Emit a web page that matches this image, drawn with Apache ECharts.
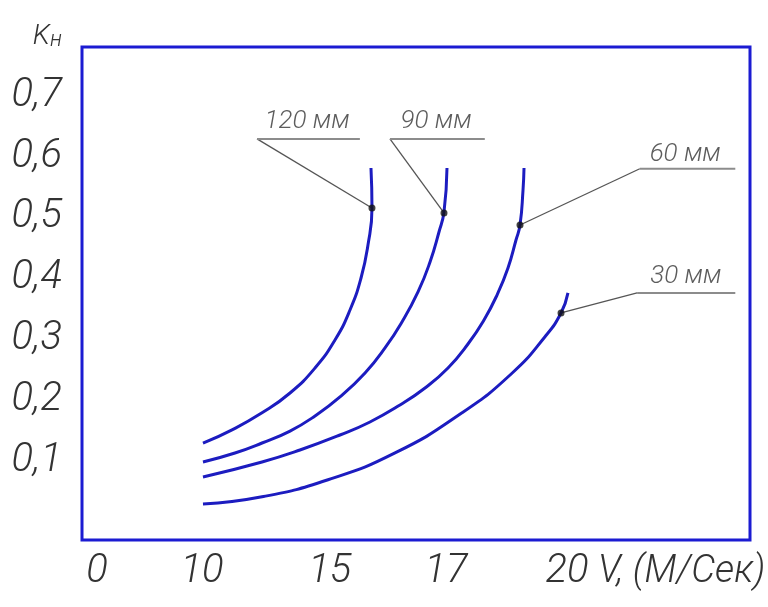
<!DOCTYPE html>
<html>
<head>
<meta charset="utf-8">
<script src="https://cdn.jsdelivr.net/npm/echarts@6/dist/echarts.min.js"></script>
<style>html,body{margin:0;padding:0;background:#fff}#c{width:768px;height:607px}</style>
</head>
<body>
<div id="c"></div>
<script>
// x axis: drawing position along the V axis (percent of frame width); labels placed at tick positions
var xTickPos = [2.25, 17.96, 37.1, 54.5, 72.6];
var xTickLabels = ['0', '10', '15', '17', '20'];
var xUnit = 'V, (М/Сек)';
var yTicks = [0.1, 0.2, 0.3, 0.4, 0.5, 0.6, 0.7];
var yName = 'Kн';

// curves [x position, Kн]
var curve120 = [[18.11,0.129],[22.46,0.151],[26.95,0.179],[31.14,0.2115],[34.88,0.2526],[37.87,0.2986],[40.12,0.3479],[41.77,0.4005],[42.81,0.4547],[43.41,0.5155],[43.26,0.5812]];
var curve90  = [[18.11,0.0982],[22.90,0.113],[26.95,0.1294],[31.14,0.149],[34.88,0.1737],[38.62,0.205],[42.37,0.2444],[45.36,0.2855],[47.90,0.3282],[50.30,0.3775],[52.10,0.4268],[53.44,0.476],[54.19,0.5089],[54.64,0.5812]];
var curve60  = [[18.11,0.0735],[26.95,0.0982],[32.63,0.1179],[38.62,0.1425],[43.11,0.1639],[47.60,0.1918],[51.35,0.2197],[54.79,0.2526],[57.78,0.292],[60.18,0.3315],[62.13,0.3725],[63.77,0.4169],[64.97,0.4629],[65.57,0.4875],[66.02,0.545],[66.17,0.5812]];
var curve30  = [[18.11,0.029],[26.95,0.041],[36.83,0.069],[46.86,0.113],[56.89,0.179],[64.37,0.244],[69.31,0.304],[71.71,0.343],[72.75,0.376]];

// callouts: point on curve, leader elbow, shelf end, label position
var calloutNames = ['120 мм', '90 мм', '60 мм', '30 мм'];
var calloutDots   = [[43.41,0.5155],[54.19,0.5073],[65.57,0.4875],[71.71,0.343]];
var calloutElbows = [[26.2,0.629],[46.1,0.629],[83.5,0.580],[83.1,0.376]];
var calloutEnds   = [[41.6,0.629],[60.3,0.629],[97.8,0.580],[97.8,0.376]];
var calloutText   = [[33.7,0.657],[53.0,0.657],[90.3,0.604],[90.4,0.403]];

var FONT = "Roboto, 'Liberation Sans Narrow', 'DejaVu Sans Condensed', sans-serif";
var TXT = '#333';
var BLUE = '#1c1cc0';
var AX_FS = 40;

var chart = echarts.init(document.getElementById('c'), null, {renderer: 'canvas'});

var series = [];
[curve120, curve90, curve60, curve30].forEach(function (c) {
  series.push({type: 'line', data: c, smooth: 0.5, symbol: 'none',
    lineStyle: {color: BLUE, width: 3}, z: 3, silent: true});
});
calloutDots.forEach(function (d, i) {
  series.push({type: 'line', data: [d, calloutElbows[i]], symbol: 'none',
    lineStyle: {color: '#555', width: 1.3}, z: 2, silent: true});
  series.push({type: 'line', data: [calloutElbows[i], calloutEnds[i]], symbol: 'none',
    lineStyle: {color: '#8c8c8c', width: 2}, z: 2, silent: true});
});
series.push({type: 'scatter', data: calloutDots, symbolSize: 7,
  itemStyle: {color: '#111'}, z: 4, silent: true});
series.push({type: 'scatter', symbolSize: 0, silent: true,
  data: calloutText.map(function (p, i) { return {value: p, name: calloutNames[i]}; }),
  label: {show: true, position: 'inside', formatter: '{b}', color: TXT,
    fontFamily: FONT, fontStyle: 'italic', fontWeight: 300, fontSize: 26}});

chart.setOption({
  animation: false,
  backgroundColor: '#fff',
  grid: {left: 82, top: 47, width: 668, height: 493, show: true,
    borderColor: '#1b1bd2', borderWidth: 3, backgroundColor: 'transparent',
    outerBoundsMode: 'none', containLabel: false},
  xAxis: {
    type: 'value', min: 0, max: 100,
    axisLine: {show: false}, axisTick: {show: false}, splitLine: {show: false},
    axisLabel: {customValues: xTickPos, margin: 12, color: TXT, fontFamily: FONT,
      fontStyle: 'italic', fontWeight: 300, fontSize: AX_FS,
      formatter: function (v) {
        var i = xTickPos.indexOf(v);
        return i >= 0 ? xTickLabels[i] : '';
      }}
  },
  yAxis: {
    type: 'value', min: -0.03, max: 0.78,
    axisLine: {show: false}, axisTick: {show: false}, splitLine: {show: false},
    axisLabel: {customValues: yTicks, margin: 20, color: TXT, fontFamily: FONT,
      fontStyle: 'italic', fontWeight: 300, fontSize: AX_FS,
      formatter: function (v) { return String(Math.round(v * 10) / 10).replace('.', ','); }},
    name: '{k|' + yName.charAt(0) + '}{n|' + yName.charAt(1) + '}',
    nameLocation: 'end', nameGap: -4, nameMoveOverlap: false,
    nameTextStyle: {align: 'right', verticalAlign: 'bottom', padding: [0, 20, 0, 0],
      rich: {
        k: {fontFamily: FONT, fontStyle: 'italic', fontWeight: 300, fontSize: 28, color: TXT, verticalAlign: 'bottom'},
        n: {fontFamily: FONT, fontStyle: 'italic', fontWeight: 300, fontSize: 22, color: TXT, verticalAlign: 'bottom'}
      }}
  },
  graphic: [{
    type: 'text', left: 598, top: 553, silent: true,
    style: {text: xUnit, fill: TXT, fontFamily: FONT, fontStyle: 'italic', fontWeight: 300, fontSize: 38}
  }],
  series: series
});
</script>
</body>
</html>
